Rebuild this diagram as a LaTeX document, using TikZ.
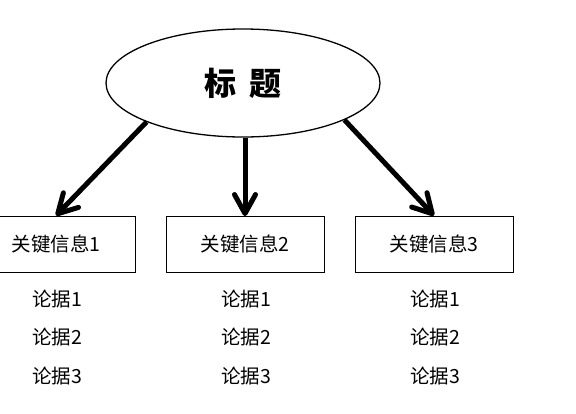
\documentclass[tikz,border=0pt]{standalone}
\usepackage{fontspec}
\newfontfamily\cjk{Noto Sans CJK SC}
\usetikzlibrary{arrows.meta,shapes.geometric}

\tikzset{
	keybox/.style={draw, line width=0.9pt, minimum width=158pt, minimum height=56pt, inner sep=0pt, font=\cjk\fontsize{19.5}{19.5}\selectfont},
	proof/.style={inner sep=0pt, font=\cjk\fontsize{19.5}{19.5}\selectfont},
	bigarrow/.style={line width=5pt, -{Straight Barb[length=19pt,width=21pt,round]}}
}

\begin{document}
\begin{tikzpicture}[x=1pt, y=1pt]
			%%%%% START %%%%%
			
			\useasboundingbox (0, 0) rectangle (576, -413);
			
			\node[ellipse, draw, line width=1.3pt, minimum width=274pt, minimum height=108pt, font=\cjk\bfseries\fontsize{32}{32}\selectfont] (title) at (243, -83) {标\hspace{13pt}题};
			
			\node[keybox] (key1) at (56, -244) {关键信息1};
			\node[keybox] (key2) at (245, -244.5) {关键信息2};
			\node[keybox] (key3) at (434, -244) {关键信息3};
			
			\draw[bigarrow] (title.202) -- (key1.north);
			\draw[bigarrow] (title.south -| key2.north) -- (key2.north);
			\draw[bigarrow] (title.340) -- (key3.north);
			
			\node[proof] (arg11) at (57, -299) {论据1};
			\node[proof] (arg12) at (57, -337) {论据2};
			\node[proof] (arg13) at (57, -376) {论据3};
			
			\node[proof] (arg21) at (246, -299) {论据1};
			\node[proof] (arg22) at (246, -337) {论据2};
			\node[proof] (arg23) at (246, -376) {论据3};
			
			\node[proof] (arg31) at (435, -299) {论据1};
			\node[proof] (arg32) at (435, -337) {论据2};
			\node[proof] (arg33) at (435, -376) {论据3};
			
			%%%%% END %%%%%
\end{tikzpicture}
\end{document}
